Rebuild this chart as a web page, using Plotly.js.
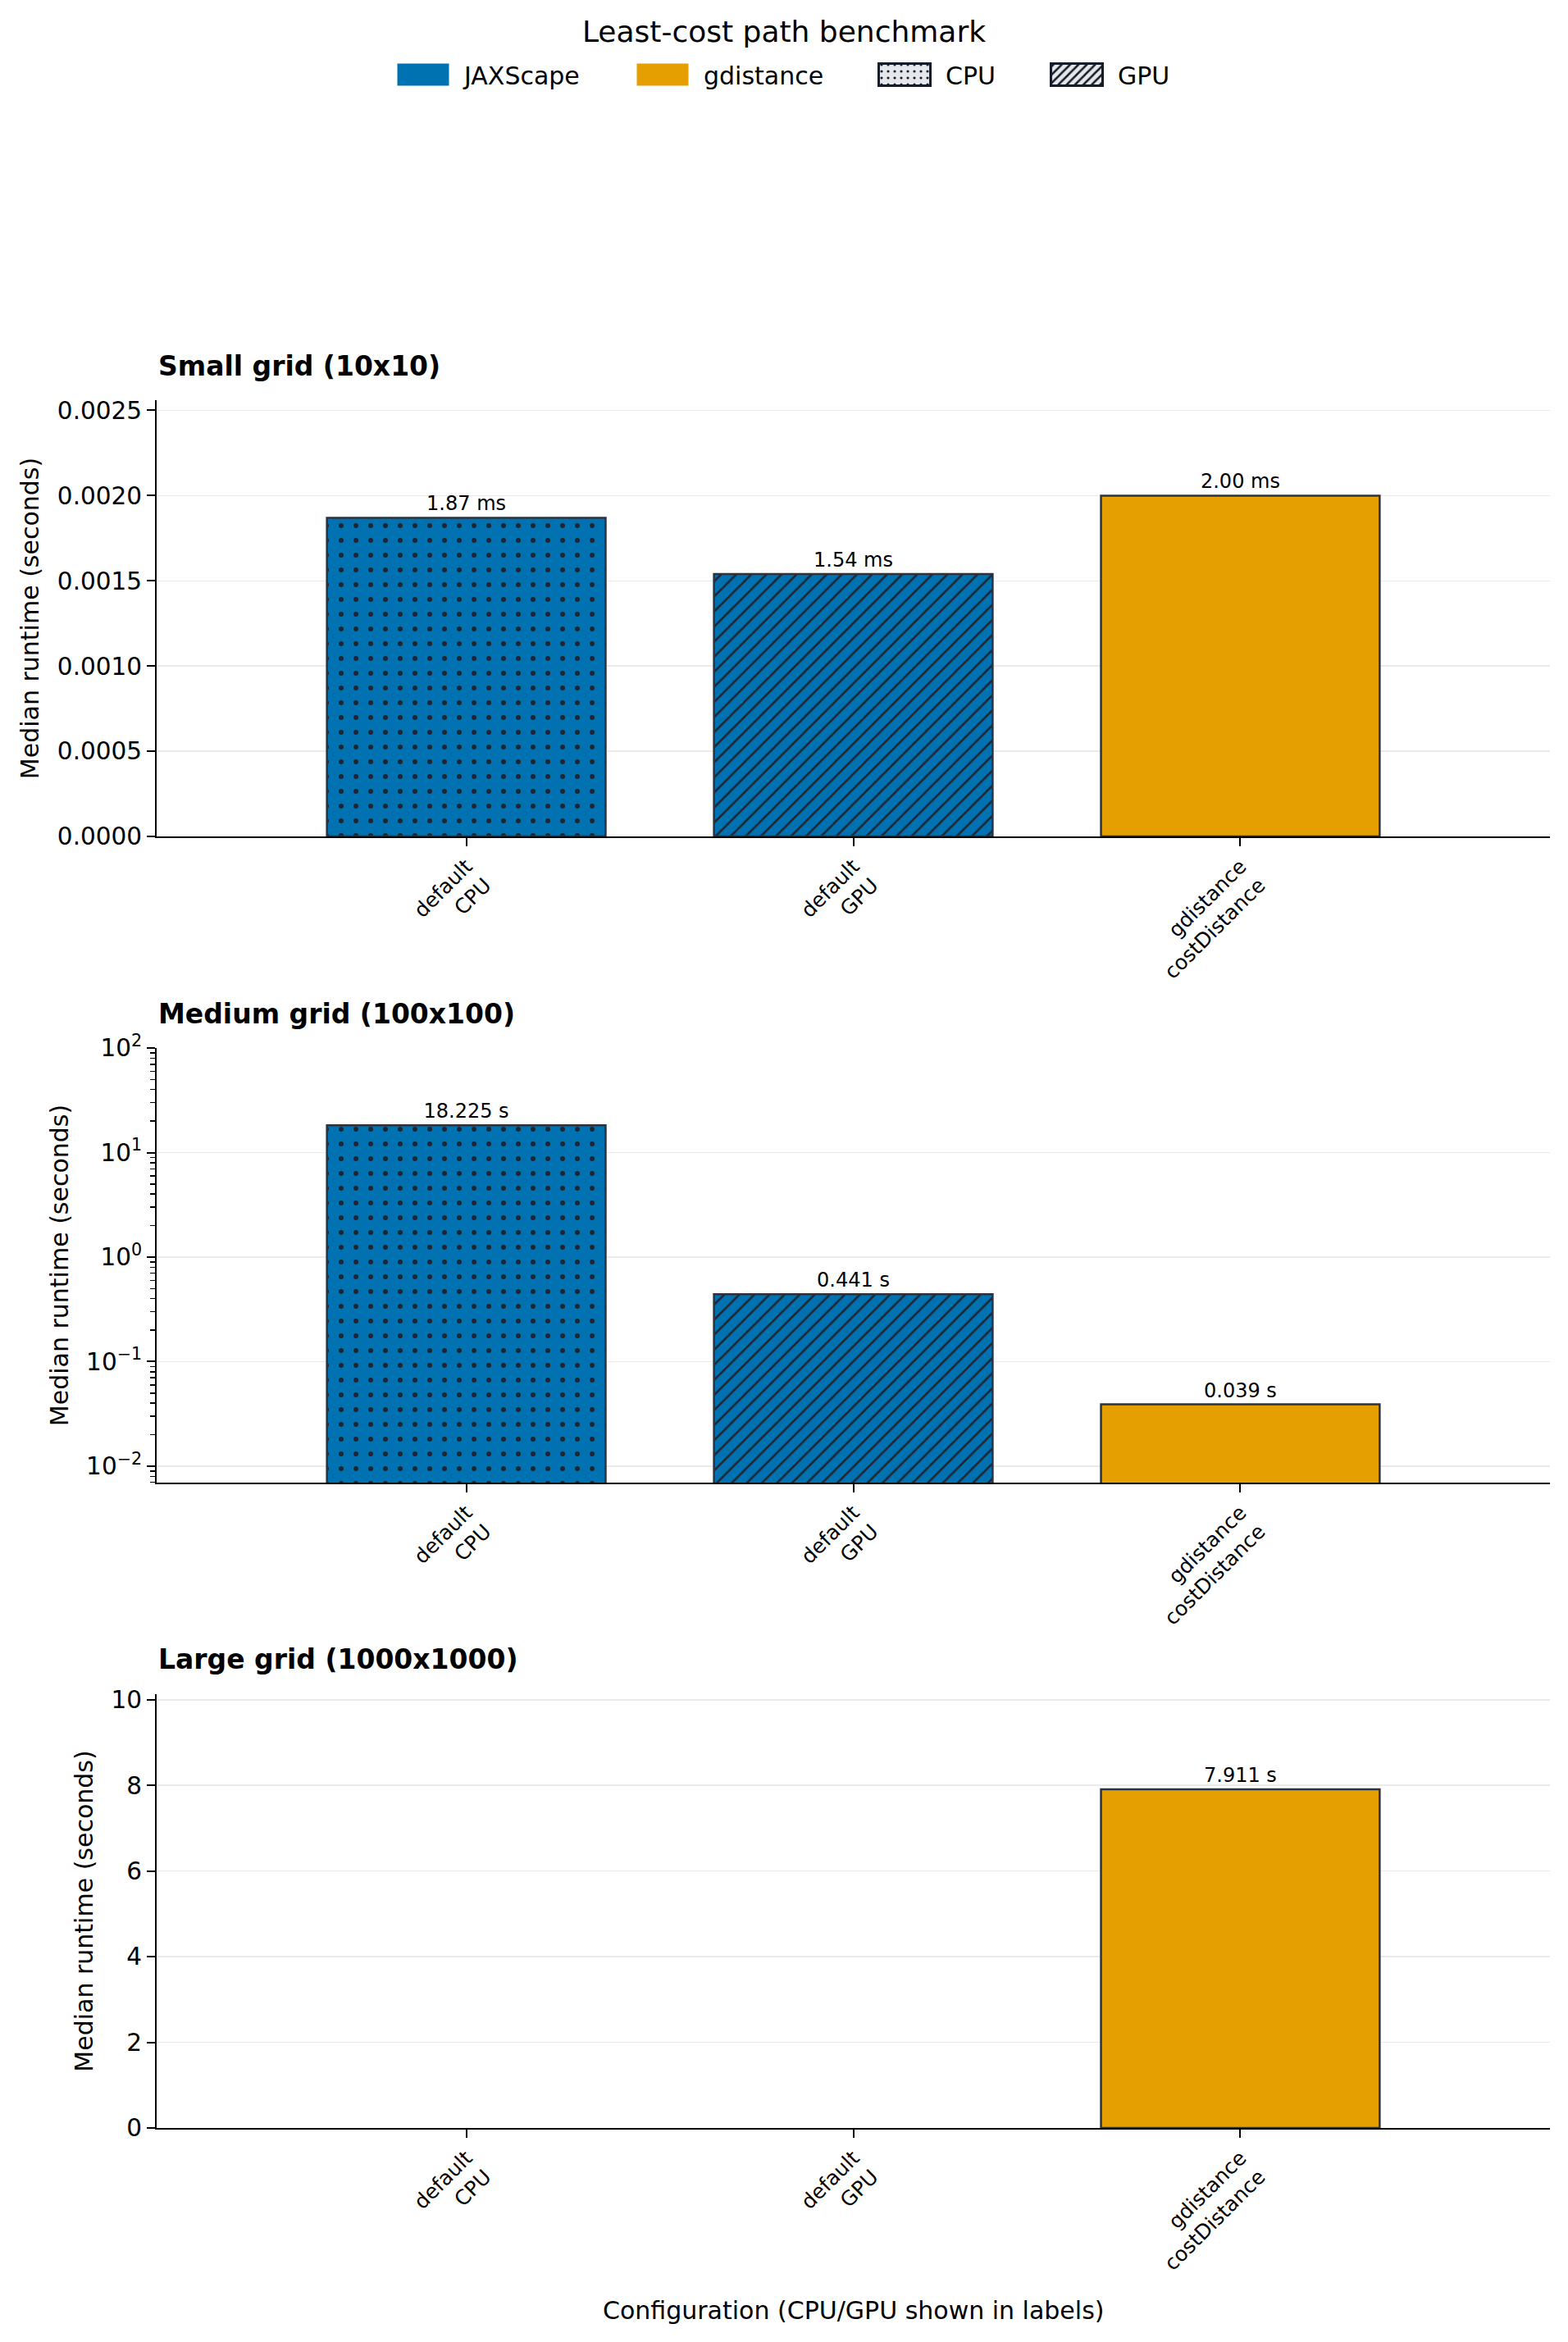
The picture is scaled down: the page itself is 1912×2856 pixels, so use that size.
<!DOCTYPE html>
<html>
<head>
<meta charset="utf-8">
<script src="https://cdn.plot.ly/plotly-3.0.1.min.js"></script>
<style>
  html, body { margin: 0; padding: 0; background: #ffffff; }
  #chart { width: 1912px; height: 2856px; }
</style>
</head>
<body>
<div id="chart"></div>
<script>
// ---------------- DATA ----------------
const categories = ['default<br>CPU', 'default<br>GPU', 'gdistance<br>costDistance'];
const smallValues = [0.00187, 0.00154, 0.00200];      // seconds
const mediumValues = [18.225, 0.441, 0.039];           // seconds
const largeValues = [null, null, 7.911];               // seconds
const panelTitles = ['Small grid (10x10)', 'Medium grid (100x100)', 'Large grid (1000x1000)'];
const legendNames = ['JAXScape', 'gdistance', 'CPU', 'GPU'];
const logTickVals = [0.01, 0.1, 1, 10, 100];
const logTickText = ['10<sup>\u22122</sup>', '10<sup>\u22121</sup>', '10<sup>0</sup>', '10<sup>1</sup>', '10<sup>2</sup>'];

// ---------------- STYLE ----------------
const BLUE = '#0072B2';
const ORANGE = '#E69F00';
const EDGE = '#2b3340';
const HATCH = '#1f2633';
const FONT = 'DejaVu Sans, Verdana, sans-serif';
const barColors = [BLUE, BLUE, ORANGE];
const patShapes = ['.', '/', ''];
const patSizes = [18, 13, 10];
const patSolidity = [0.09, 0.2, 0.3];

function fmtSmall(v) { return v == null ? '' : (v * 1000).toFixed(2) + ' ms'; }
function fmtSec(v) { return v == null ? '' : v.toFixed(3) + ' s'; }

// one trace per bar so each bar keeps its own hatch colour
function barTraces(values, fmt, xa, ya) {
  return categories.map((c, i) => ({
    type: 'bar',
    x: [c],
    y: [values[i]],
    xaxis: xa, yaxis: ya,
    width: 0.72,
    text: [fmt(values[i])],
    textposition: 'outside',
    cliponaxis: false,
    textfont: { family: FONT, size: 24, color: '#000' },
    marker: {
      color: barColors[i],
      line: { color: EDGE, width: 2.5 },
      pattern: { shape: patShapes[i], size: patSizes[i], solidity: patSolidity[i], fgcolor: HATCH, bgcolor: barColors[i], fgopacity: 1, fillmode: 'overlay' }
    },
    showlegend: false,
    hoverinfo: 'x+y'
  }));
}

// legend-only traces (placed on a hidden helper axis)
const LEG_EDGE = '#141b29';
const LEG_BG = '#e5e7eb';
const legendStyles = [
  { color: BLUE, line: { color: BLUE, width: 0 } },
  { color: ORANGE, line: { color: ORANGE, width: 0 } },
  { color: LEG_BG, line: { color: LEG_EDGE, width: 3 }, pattern: { shape: '.', size: 12, solidity: 0.12, fgcolor: LEG_EDGE, bgcolor: LEG_BG, fgopacity: 1, fillmode: 'overlay' } },
  { color: LEG_BG, line: { color: LEG_EDGE, width: 3 }, pattern: { shape: '/', size: 9, solidity: 0.35, fgcolor: LEG_EDGE, bgcolor: LEG_BG, fgopacity: 1, fillmode: 'overlay' } }
];
const legendIds = ['legend', 'legend2', 'legend3', 'legend4'];
const legendTextStart = [571, 863, 1158, 1368];

const traces = [];
legendNames.forEach((n, i) => {
  traces.push({
    type: 'bar', name: n, x: [categories[0]], y: [null],
    xaxis: 'x4', yaxis: 'y4',
    marker: legendStyles[i], showlegend: true, legend: legendIds[i], hoverinfo: 'skip'
  });
});
barTraces(smallValues, fmtSmall, 'x', 'y').forEach(t => traces.push(t));
barTraces(mediumValues, fmtSec, 'x2', 'y2').forEach(t => traces.push(t));
barTraces(largeValues, fmtSec, 'x3', 'y3').forEach(t => traces.push(t));

const H = 2856, W = 1912;
const TOP = 140;
const ITEMW = 90;
function yfrac(px) { return 1 - (px - TOP) / (H - TOP); }

const baseX = {
  type: 'category', categoryorder: 'array', categoryarray: categories, range: [-0.8, 2.8], tickangle: -45,
  ticks: 'outside', ticklen: 10, tickwidth: 2, tickcolor: '#000',
  showline: true, linecolor: '#000', linewidth: 2, showgrid: false, zeroline: false,
  tickfont: { family: FONT, size: 25, color: '#000' }, automargin: false, fixedrange: true
};
const baseY = {
  ticks: 'outside', ticklen: 10, tickwidth: 2, tickcolor: '#000',
  showline: true, linecolor: '#000', linewidth: 2,
  showgrid: true, gridcolor: '#ebebeb', gridwidth: 1.5, zeroline: false,
  tickfont: { family: FONT, size: 29.5, color: '#000' }, automargin: false, fixedrange: true,
  title: { text: 'Median runtime (seconds)', font: { family: FONT, size: 30, color: '#000' }, standoff: 13 }
};

const layout = {
  width: W, height: H,
  paper_bgcolor: '#fff', plot_bgcolor: '#fff',
  margin: { l: 191, r: 22, t: TOP, b: 0 },
  barmode: 'overlay',
  font: { family: FONT, color: '#000' },
  title: { text: 'Least-cost path benchmark', font: { family: FONT, size: 36, color: '#000' },
           x: 0.5, xref: 'container', xanchor: 'center', y: 1 - 38 / H, yref: 'container', yanchor: 'middle' },
  xaxis: Object.assign({}, baseX, { anchor: 'y', domain: [0, 1] }),
  xaxis2: Object.assign({}, baseX, { anchor: 'y2', domain: [0, 1] }),
  xaxis3: Object.assign({}, baseX, { anchor: 'y3', domain: [0, 1] }),
  xaxis4: { visible: false, domain: [0, 0.01], anchor: 'y4', fixedrange: true },
  yaxis: Object.assign({}, baseY, { anchor: 'x', domain: [yfrac(1020), yfrac(488)], range: [0, 0.00256], dtick: 0.0005, tickformat: '.4f' }),
  yaxis2: Object.assign({}, baseY, { anchor: 'x2', domain: [yfrac(1808), yfrac(1278)], type: 'log', range: [-2.157, 2.0],
          tickmode: 'array', tickvals: logTickVals, ticktext: logTickText,
          minor: { tickmode: 'linear', tick0: 0, dtick: 'D1', ticks: 'outside', ticklen: 6, tickwidth: 1.5, tickcolor: '#000', showgrid: false } }),
  yaxis3: Object.assign({}, baseY, { anchor: 'x3', domain: [yfrac(2595), yfrac(2066)], range: [0, 10.13], dtick: 2 }),
  yaxis4: { visible: false, domain: [0.99, 1], anchor: 'x4', fixedrange: true },
  annotations: [
    { text: '<b>' + panelTitles[0] + '</b>', xref: 'paper', yref: 'paper', x: 0, y: yfrac(446), xanchor: 'left', yanchor: 'middle', showarrow: false, font: { family: FONT, size: 33, color: '#000' } },
    { text: '<b>' + panelTitles[1] + '</b>', xref: 'paper', yref: 'paper', x: 0, y: yfrac(1236), xanchor: 'left', yanchor: 'middle', showarrow: false, font: { family: FONT, size: 33, color: '#000' } },
    { text: '<b>' + panelTitles[2] + '</b>', xref: 'paper', yref: 'paper', x: 0, y: yfrac(2023), xanchor: 'left', yanchor: 'middle', showarrow: false, font: { family: FONT, size: 33, color: '#000' } },
    { text: 'Configuration (CPU/GPU shown in labels)', xref: 'paper', yref: 'paper', x: 0.5, y: yfrac(2817), xanchor: 'center', yanchor: 'middle', showarrow: false, font: { family: FONT, size: 30, color: '#000' } }
  ]
};

legendIds.forEach((id, i) => {
  layout[id] = {
    x: (legendTextStart[i] - ITEMW - 15) / W, xref: 'container', xanchor: 'left',
    y: 1 - 91 / H, yref: 'container', yanchor: 'middle',
    orientation: 'h', itemwidth: ITEMW, bgcolor: 'rgba(0,0,0,0)',
    font: { family: FONT, size: 30, color: '#000' }
  };
});

Plotly.newPlot('chart', traces, layout, { displayModeBar: false, staticPlot: true }).then(function () {
  // enlarge legend patches to matplotlib-like handle size
  document.querySelectorAll('.legendpoints path').forEach(function (p) {
    p.setAttribute('d', 'M31.5,13.5H-31.5V-13.5H31.5Z');
  });
});
</script>
</body>
</html>
